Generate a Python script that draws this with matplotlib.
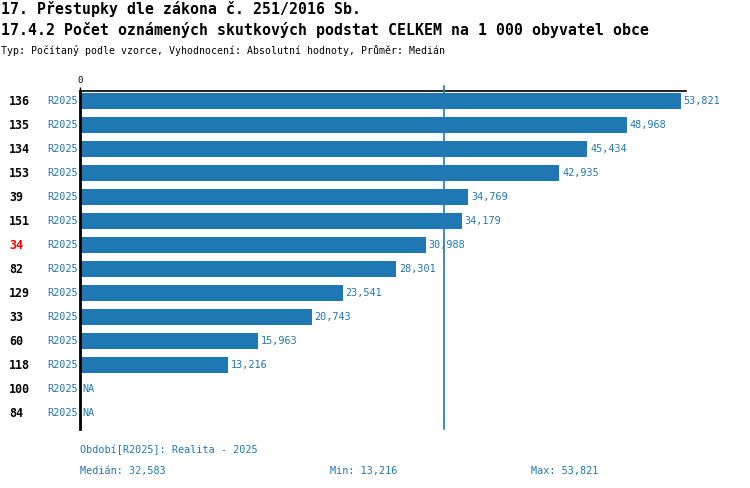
import matplotlib
matplotlib.use("Agg")
import matplotlib.pyplot as plt
import matplotlib.transforms as mtransforms
import numpy as np

# ---- data ----
codes = ["136", "135", "134", "153", "39", "151", "34", "82", "129", "33", "60", "118", "100", "84"]
period = ["R2025"] * 14
values = [53821, 48968, 45434, 42935, 34769, 34179, 30988, 28301, 23541, 20743, 15963, 13216, None, None]
highlight = "34"
median_value = 32583
min_value = 13216
max_value = 53821
x_max = 54270

title1 = "17. Přestupky dle zákona č. 251/2016 Sb."
title2 = "17.4.2 Počet oznámených skutkových podstat CELKEM na 1 000 obyvatel obce"
subtitle = "Typ: Počítaný podle vzorce, Vyhodnocení: Absolutní hodnoty, Průměr: Medián"
footer_period = "Období[R2025]: Realita - 2025"

BLUE = "#1f77b4"
FONT = ["DejaVu Sans Mono"]

W, H = 750, 488
fig = plt.figure(figsize=(W / 100, H / 100), dpi=100)
ax = fig.add_axes([80 / W, 1 - 428.5 / H, (686 - 80) / W, (428.5 - 91) / H])

n = len(codes)
ypos = np.arange(n)
vals = np.array([np.nan if v is None else v for v in values], dtype=float)
ax.barh(ypos, np.nan_to_num(vals), height=0.67, color=BLUE, zorder=2)
ax.set_xlim(0, x_max)
ax.set_ylim(n - 1 + 0.64, -0.42)

for s in ["right", "bottom"]:
    ax.spines[s].set_visible(False)
ax.spines["left"].set_linewidth(2)
ax.spines["left"].set_color("black")
ax.spines["top"].set_linewidth(1.2)
ax.spines["top"].set_color("black")
ax.set_yticks([])
ax.xaxis.tick_top()
ax.set_xticks([0])
ax.set_xticklabels(["0"], fontsize=6.5, family=FONT)
ax.tick_params(axis="x", length=3, width=1, pad=1)

# median line
ax.axvline(median_value, color=BLUE, lw=1.2, zorder=3, ymax=1.015, clip_on=False)

trans = mtransforms.blended_transform_factory(fig.transFigure, ax.transData)
for i, (c, p, v) in enumerate(zip(codes, period, vals)):
    ax.text(9 / W, i, c, transform=trans, ha="left", va="center", fontsize=8.4,
            fontweight="bold", family=FONT, color="red" if c == highlight else "black")
    ax.text(78 / W, i, p, transform=trans, ha="right", va="center", fontsize=7.3,
            family=FONT, color=BLUE)
    if np.isnan(v):
        ax.annotate("NA", (0, i), xytext=(2, 0), textcoords="offset points",
                    ha="left", va="center", fontsize=7.3, family=FONT, color=BLUE)
    else:
        ax.annotate(f"{int(v):,}", (v, i), xytext=(2, 0), textcoords="offset points",
                    ha="left", va="center", fontsize=7.3, family=FONT, color=BLUE)

fig.text(1 / W, 1 - 9 / H, title1, ha="left", va="center", fontsize=10.7,
         fontweight="bold", family=FONT)
fig.text(1 / W, 1 - 30 / H, title2, ha="left", va="center", fontsize=10.7,
         fontweight="bold", family=FONT)
fig.text(1 / W, 1 - 50 / H, subtitle, ha="left", va="center", fontsize=7.1, family=FONT)

fig.text(80 / W, 1 - 450 / H, footer_period, ha="left", va="center", fontsize=7.3,
         family=FONT, color=BLUE)
fig.text(80 / W, 1 - 471 / H, f"Medián: {median_value:,}", ha="left", va="center",
         fontsize=7.3, family=FONT, color=BLUE)
fig.text(330 / W, 1 - 471 / H, f"Min: {min_value:,}", ha="left", va="center",
         fontsize=7.3, family=FONT, color=BLUE)
fig.text(531 / W, 1 - 471 / H, f"Max: {max_value:,}", ha="left", va="center",
         fontsize=7.3, family=FONT, color=BLUE)

fig.savefig("out.png", dpi=100)
